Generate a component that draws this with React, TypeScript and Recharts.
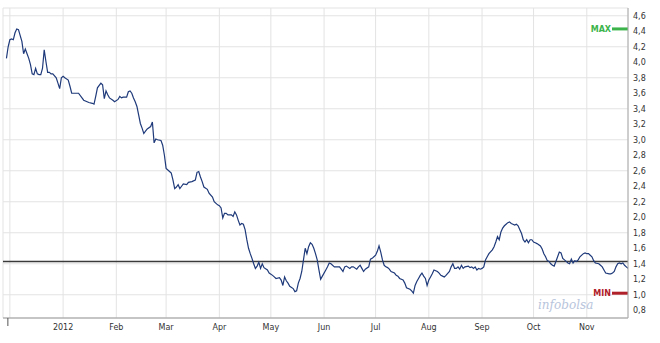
import { LineChart, Line, XAxis, YAxis, CartesianGrid, ReferenceLine } from "recharts"

// days counted from 1 Dec 2011
const days = [
  -2, -1, 0, 1, 2, 3, 4, 5, 7, 8, 9, 10, 11, 12, 13, 14, 15, 16, 17, 18, 19, 20, 21, 22, 23, 24, 25, 27, 28, 29,
  30, 31, 32, 34, 35, 36, 37, 39, 40, 42, 43, 45, 46, 48, 49, 50, 51, 53, 54, 55, 56, 57, 58, 60, 61, 63, 64, 65, 66, 68,
  69, 70, 71, 72, 73, 74, 75, 76, 77, 78, 79, 80, 82, 83, 84, 85, 86, 88, 89, 90, 91, 93, 94, 95, 96, 97, 98, 99, 100, 101,
  103, 104, 106, 108, 109, 110, 111, 112, 113, 115, 116, 118, 119, 121, 122, 123, 124, 125, 126, 127, 129, 130, 131, 132, 133, 134, 135, 136, 137, 138,
  139, 140, 141, 142, 143, 144, 145, 146, 147, 148, 150, 151, 153, 154, 155, 157, 158, 159, 160, 161, 162, 163, 165, 166, 167, 168, 169, 170, 171, 172,
  173, 174, 175, 176, 177, 178, 179, 180, 181, 182, 184, 185, 186, 187, 189, 190, 192, 193, 194, 195, 196, 198, 199, 200, 202, 203, 204, 205, 206, 207,
  209, 210, 211, 212, 213, 214, 215, 216, 217, 218, 219, 220, 221, 222, 224, 225, 226, 227, 229, 230, 231, 233, 234, 235, 236, 237, 238, 239, 240, 241,
  242, 243, 244, 245, 246, 247, 249, 250, 251, 252, 253, 254, 256, 257, 258, 259, 260, 261, 262, 263, 264, 265, 267, 268, 269, 270, 271, 272, 273, 274,
  275, 276, 277, 278, 279, 281, 282, 283, 284, 285, 286, 287, 288, 289, 290, 291, 292, 293, 294, 295, 296, 297, 298, 299, 300, 301, 302, 303, 304, 305,
  306, 307, 309, 310, 311, 312, 313, 314, 315, 316, 317, 318, 319, 320, 321, 322, 323, 324, 325, 326, 327, 328, 329, 330, 331, 332, 334, 335, 336, 337,
  338, 339, 340, 341, 343, 344, 345, 346, 347, 349, 350, 351, 352, 353, 354, 355, 356, 357, 358, 359, 360,
]

const prices = [
  4.05, 4.2, 4.29, 4.3, 4.29, 4.38, 4.43, 4.42, 4.27, 4.11, 4.17, 4.11, 4.05, 3.97, 3.85, 3.84, 3.92, 3.85, 3.84, 3.84, 3.92, 4.16, 4.01, 3.87, 3.87, 3.85, 3.85, 3.8, 3.73, 3.66,
  3.8, 3.82, 3.8, 3.77, 3.69, 3.6, 3.6, 3.6, 3.6, 3.54, 3.51, 3.49, 3.48, 3.47, 3.46, 3.56, 3.67, 3.73, 3.71, 3.53, 3.63, 3.58, 3.54, 3.51, 3.49, 3.52, 3.56, 3.54, 3.55, 3.55,
  3.62, 3.63, 3.6, 3.54, 3.49, 3.43, 3.32, 3.21, 3.15, 3.08, 3.11, 3.14, 3.17, 3.23, 2.96, 3.01, 3.0, 2.99, 2.93, 2.8, 2.63, 2.59, 2.57, 2.48, 2.37, 2.39, 2.42, 2.37, 2.4, 2.43,
  2.42, 2.45, 2.46, 2.48, 2.58, 2.59, 2.52, 2.46, 2.39, 2.36, 2.31, 2.26, 2.2, 2.16, 2.15, 2.12, 1.99, 2.05, 2.05, 2.03, 2.03, 2.01, 2.07, 2.03, 1.96, 1.9, 1.92, 1.91, 1.84, 1.71,
  1.6, 1.53, 1.47, 1.4, 1.34, 1.37, 1.42, 1.34, 1.4, 1.35, 1.32, 1.28, 1.25, 1.23, 1.21, 1.22, 1.19, 1.12, 1.23, 1.18, 1.15, 1.11, 1.08, 1.04, 1.05, 1.15, 1.21, 1.3, 1.45, 1.6,
  1.53, 1.62, 1.67, 1.65, 1.6, 1.53, 1.45, 1.32, 1.2, 1.24, 1.32, 1.36, 1.41, 1.4, 1.36, 1.36, 1.36, 1.33, 1.3, 1.36, 1.37, 1.34, 1.36, 1.36, 1.33, 1.36, 1.38, 1.34, 1.3, 1.33,
  1.36, 1.46, 1.47, 1.49, 1.51, 1.56, 1.63, 1.55, 1.45, 1.38, 1.36, 1.35, 1.33, 1.3, 1.28, 1.25, 1.24, 1.21, 1.19, 1.15, 1.09, 1.07, 1.05, 1.02, 1.12, 1.17, 1.21, 1.25, 1.28, 1.24,
  1.21, 1.12, 1.19, 1.23, 1.27, 1.32, 1.3, 1.28, 1.25, 1.24, 1.23, 1.25, 1.3, 1.36, 1.4, 1.34, 1.34, 1.36, 1.33, 1.38, 1.34, 1.36, 1.37, 1.35, 1.36, 1.34, 1.36, 1.32, 1.34, 1.33,
  1.34, 1.36, 1.45, 1.49, 1.53, 1.58, 1.62, 1.68, 1.75, 1.71, 1.81, 1.86, 1.89, 1.91, 1.93, 1.94, 1.92, 1.91, 1.9, 1.91, 1.89, 1.84, 1.79, 1.71, 1.68, 1.71, 1.67, 1.71, 1.71, 1.68,
  1.67, 1.66, 1.63, 1.59, 1.53, 1.49, 1.44, 1.43, 1.4, 1.38, 1.37, 1.43, 1.49, 1.55, 1.54, 1.47, 1.45, 1.43, 1.41, 1.4, 1.46, 1.41, 1.44, 1.43, 1.45, 1.49, 1.53, 1.54, 1.53, 1.53,
  1.51, 1.49, 1.44, 1.41, 1.4, 1.38, 1.36, 1.32, 1.28, 1.27, 1.27, 1.28, 1.3, 1.36, 1.4, 1.41, 1.4, 1.41, 1.38, 1.36, 1.34,
]

const monthTicks = [0, 31, 62, 91, 122, 152, 183, 213, 244, 275, 305, 336]
const monthLabels = ["", "2012", "Feb", "Mar", "Apr", "May", "Jun", "Jul", "Aug", "Sep", "Oct", "Nov"]
const priceTicks = [0.8, 1.0, 1.2, 1.4, 1.6, 1.8, 2.0, 2.2, 2.4, 2.6, 2.8, 3.0, 3.2, 3.4, 3.6, 3.8, 4.0, 4.2, 4.4, 4.6]
const refLevel = 1.43

const data = days.map((d, i) => ({ day: d, price: prices[i] }))
const maxPrice = Math.max(...prices)
const minPrice = Math.min(...prices)

const MonthTick = ({ x, y, payload }: any) => {
  const label = monthLabels[monthTicks.indexOf(payload.value)]
  if (!label) {
    return <line x1={x - 2} x2={x - 2} y1={y - 3} y2={y + 5} stroke="#555" />
  }
  return (
    <text x={x} y={y} dy={9} textAnchor="middle" fontSize={8} fontFamily="DejaVu Sans" fill="#333">
      {label}
    </text>
  )
}

const markerShape = (color: string, text: string) => (props: any) => {
  const right = Math.max(props.x1, props.x2)
  const y = props.y1
  return (
    <g>
      <line x1={right - 16} x2={right} y1={y} y2={y} stroke={color} strokeWidth={3} />
      <text x={right - 17} y={y + 3} textAnchor="end" fontSize={8} fontWeight="bold" fontFamily="DejaVu Sans" fill={color}>
        {text}
      </text>
    </g>
  )
}

export default function App() {
  return (
    <div style={{ position: "absolute", left: 0, top: 0, width: 660, height: 343, background: "#fff" }}>
      <LineChart width={660} height={343} data={data} margin={{ top: 8, right: 0, left: 3, bottom: 0 }}>
        <CartesianGrid stroke="#e3e3e3" />
        <XAxis
          type="number"
          dataKey="day"
          domain={[-4, 360]}
          ticks={monthTicks}
          tick={<MonthTick />}
          tickLine={false}
          tickSize={0}
          tickMargin={3}
          height={25}
          axisLine={{ stroke: "#999" }}
          allowDataOverflow
        />
        <YAxis
          orientation="right"
          domain={[0.7, 4.7]}
          ticks={priceTicks}
          width={32}
          tickLine={false}
          tickSize={0}
          tickMargin={5}
          axisLine={{ stroke: "#aaa" }}
          tick={{ fontSize: 8, fill: "#333", fontFamily: "DejaVu Sans" }}
          tickFormatter={(v: number) => v.toFixed(1).replace(".", ",")}
        />
        <ReferenceLine y={refLevel} stroke="#3a3a3a" strokeWidth={1.5} />
        <ReferenceLine y={maxPrice} shape={markerShape("#3cb44b", "MAX")} />
        <ReferenceLine y={minPrice} shape={markerShape("#b0202a", "MIN")} />
        <Line
          type="linear"
          dataKey="price"
          stroke="#1f3a7a"
          strokeWidth={1.2}
          dot={false}
          isAnimationActive={false}
        />
      </LineChart>
      <div
        style={{
          position: "absolute",
          left: 538,
          top: 298,
          fontFamily: "DejaVu Serif",
          fontStyle: "italic",
          fontSize: 12,
          color: "#b8c5dc",
        }}
      >
        infobolsa
      </div>
    </div>
  )
}
